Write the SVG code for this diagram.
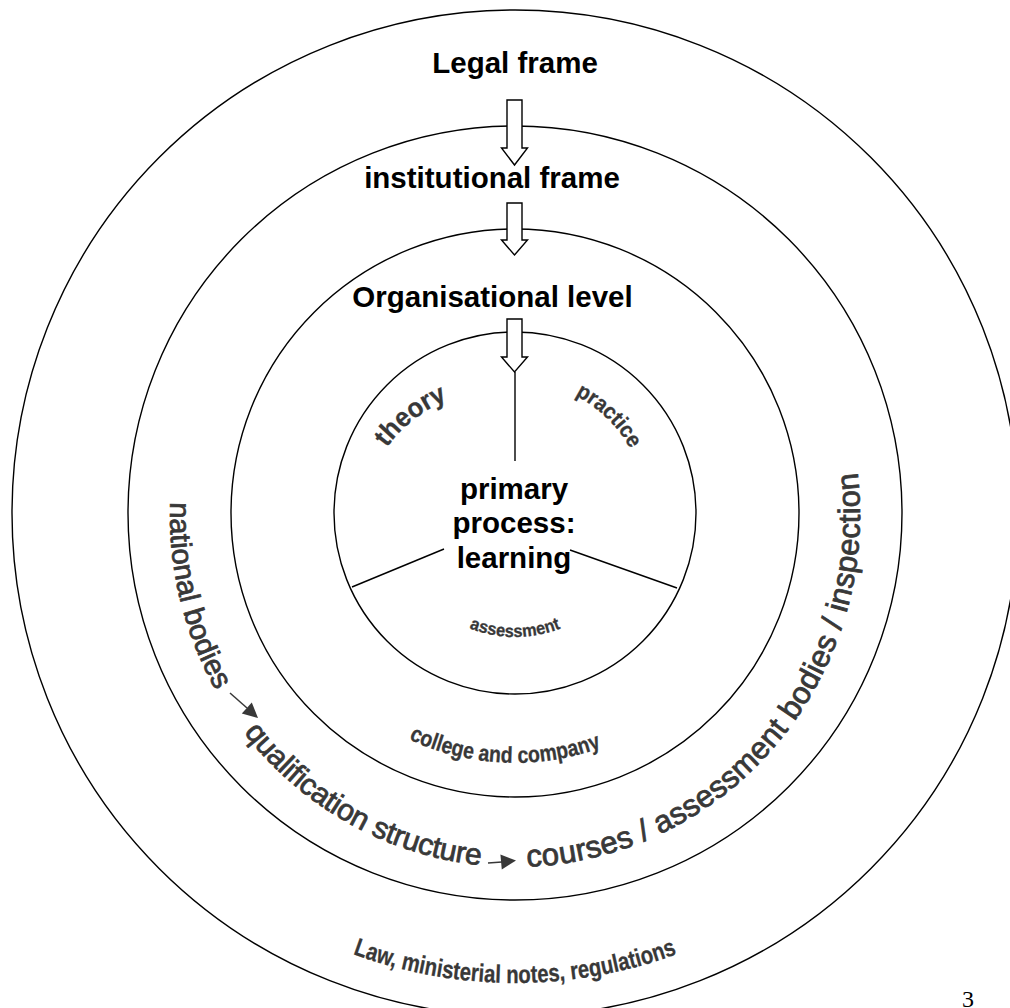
<svg xmlns="http://www.w3.org/2000/svg" width="1010" height="1008" viewBox="0 0 1010 1008">
  <style>
    .ring { fill: none; stroke: #000; stroke-width: 1.4; }
    .divider { stroke: #000; stroke-width: 1.4; }
    .title { font-family: "Liberation Sans", Arial, sans-serif; font-weight: bold; font-size: 29.5px; fill: #000; text-anchor: middle; }
    .curve { font-family: "Liberation Sans", Arial, sans-serif; fill: #383838; stroke: #383838; stroke-width: 0.8; }
    .curve-b { font-family: "Liberation Sans", Arial, sans-serif; font-weight: bold; fill: #383838; stroke: #383838; stroke-width: 0.3; }
    .block { fill: #fff; stroke: #000; stroke-width: 1.4; stroke-linejoin: miter; }
    .flow { stroke: #383838; stroke-width: 1.5; }
    .flowhead { fill: #383838; }
  </style>
  <defs>
    <!-- baseline paths for the curved labels -->
    <path id="arcChain" d="M171.3,484.3 A345,352 0 1 0 813.8,339"/>
    <path id="arcLaw" d="M108,748 A470,470 0 0 0 922,748"/>
    <path id="arcCollege" d="M280.1,598.5 A250,250 0 0 0 749.9,598.5"/>
    <path id="arcAssess" d="M407.6,575 A124,124 0 0 0 622.4,575"/>
    <path id="arcTheory" d="M360.1,525.1 A140,140 0 0 1 529.1,393.1"/>
    <path id="arcPractice" d="M501.2,381.7 A132,132 0 0 1 646.7,522.2"/>
  </defs>

  <rect width="1010" height="1008" fill="#fff"/>

  <!-- Legal frame: outermost ring -->
  <g id="legal-frame">
    <circle class="ring" cx="515" cy="513" r="503"/>
    <text class="title" x="515" y="73">Legal frame</text>
    <text class="curve-b" font-size="25">
      <textPath href="#arcLaw" startOffset="50%" text-anchor="middle" textLength="331" lengthAdjust="spacingAndGlyphs">Law, ministerial notes, regulations</textPath>
    </text>
  </g>

  <!-- Institutional frame -->
  <g id="institutional-frame">
    <circle class="ring" cx="515" cy="513" r="387"/>
    <text class="title" x="492" y="188">institutional frame</text>
    <text class="curve" font-size="29">
      <textPath href="#arcChain" startOffset="18.2" textLength="196">national bodies</textPath>
    </text>
    <text class="curve" font-size="30">
      <textPath href="#arcChain" startOffset="264.6" textLength="279">qualification structure</textPath>
    </text>
    <text class="curve" font-size="31">
      <textPath href="#arcChain" startOffset="590" textLength="578">courses / assessment bodies / inspection</textPath>
    </text>
  </g>

  <!-- Organisational level -->
  <g id="organisational-level">
    <circle class="ring" cx="515" cy="513" r="284"/>
    <text class="title" x="492.5" y="307">Organisational level</text>
    <text class="curve-b" font-size="23">
      <textPath href="#arcCollege" startOffset="294.5" text-anchor="middle" textLength="198" lengthAdjust="spacingAndGlyphs">college and company</textPath>
    </text>
  </g>

  <!-- Primary process -->
  <g id="primary-process">
    <circle class="ring" cx="515" cy="513" r="181"/>
    <line class="divider" x1="515" y1="372" x2="515" y2="461"/>
    <line class="divider" x1="444" y1="549" x2="352" y2="587"/>
    <line class="divider" x1="570" y1="550" x2="677" y2="588"/>
    <text class="title" x="514" y="499">primary</text>
    <text class="title" x="514" y="533">process:</text>
    <text class="title" x="514" y="568">learning</text>
    <text class="curve-b" font-size="27">
      <textPath href="#arcTheory" startOffset="50%" text-anchor="middle" textLength="78" lengthAdjust="spacingAndGlyphs">theory</textPath>
    </text>
    <text class="curve-b" font-size="22">
      <textPath href="#arcPractice" startOffset="50%" text-anchor="middle" textLength="78" lengthAdjust="spacingAndGlyphs">practice</textPath>
    </text>
    <text class="curve-b" font-size="17.5">
      <textPath href="#arcAssess" startOffset="50%" text-anchor="middle" textLength="94" lengthAdjust="spacingAndGlyphs">assessment</textPath>
    </text>
  </g>

  <!-- connectors: block arrows between the frames and the small flow arrows -->
  <g id="connectors">
    <polygon class="block" points="507,100 522,100 522,148 527.5,148 514.5,165 501.5,148 507,148"/>
    <polygon class="block" points="507,203 522,203 522,240 527.5,240 514.5,255 501.5,240 507,240"/>
    <polygon class="block" points="507,319 522,319 522,357 527.5,357 514.5,372 501.5,357 507,357"/>
    <line class="flow" x1="230" y1="693" x2="247" y2="708"/>
    <polygon class="flowhead" points="258,718 241.8,713.6 251.8,702.4"/>
    <line class="flow" x1="488" y1="863" x2="502" y2="862"/>
    <polygon class="flowhead" points="516,860.5 501.8,869.5 500.4,854.5"/>
  </g>

  <text x="962" y="1007" font-family="'Liberation Serif', 'Times New Roman', serif" font-size="24" fill="#000">3</text>
</svg>
